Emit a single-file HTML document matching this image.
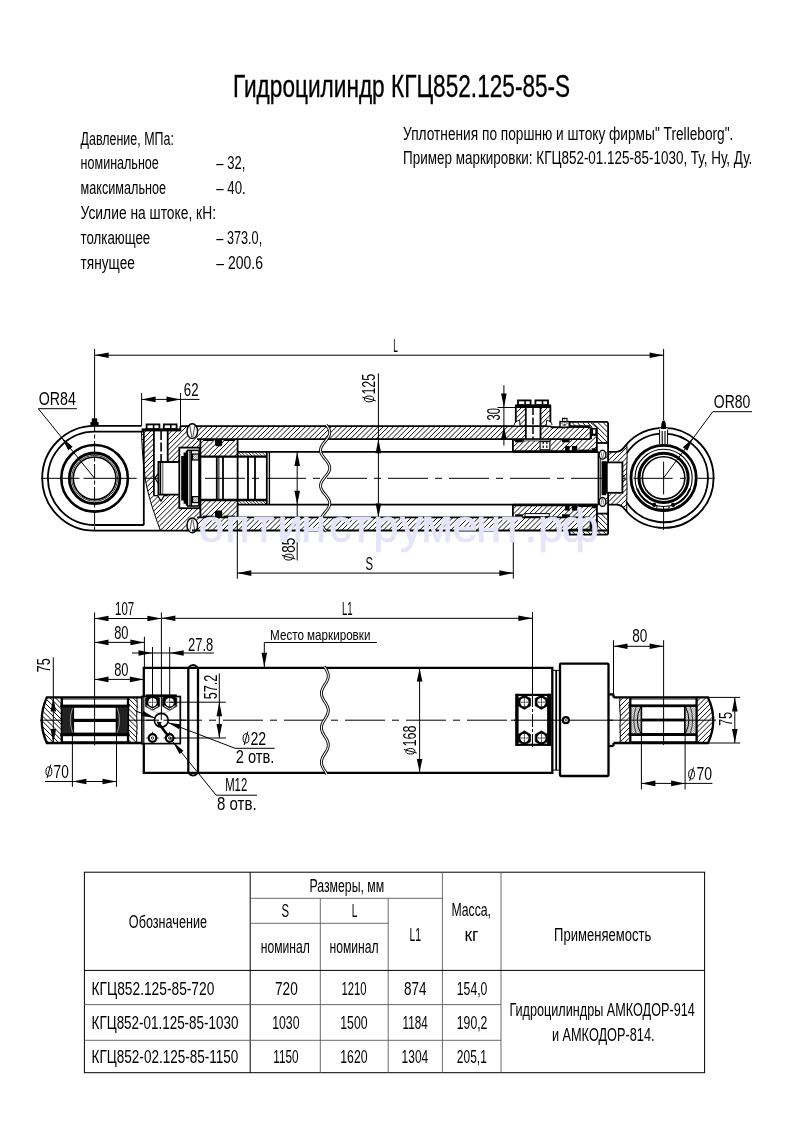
<!DOCTYPE html>
<html><head><meta charset="utf-8"><title>Гидроцилиндр КГЦ852.125-85-S</title>
<style>html,body{margin:0;padding:0;background:#fff}svg{display:block}text{white-space:pre}svg{will-change:transform}</style></head>
<body><svg width="793" height="1123" viewBox="0 0 793 1123">
<defs>
<path id="hA" d="M-15.00 540.0L130.00 395.0M-9.82 540.0L135.18 395.0M-4.64 540.0L140.36 395.0M0.54 540.0L145.54 395.0M5.72 540.0L150.72 395.0M10.90 540.0L155.90 395.0M16.08 540.0L161.08 395.0M21.26 540.0L166.26 395.0M26.44 540.0L171.44 395.0M31.62 540.0L176.62 395.0M36.80 540.0L181.80 395.0M41.98 540.0L186.98 395.0M47.16 540.0L192.16 395.0M52.34 540.0L197.34 395.0M57.52 540.0L202.52 395.0M62.70 540.0L207.70 395.0M67.88 540.0L212.88 395.0M73.06 540.0L218.06 395.0M78.24 540.0L223.24 395.0M83.42 540.0L228.42 395.0M88.60 540.0L233.60 395.0M93.78 540.0L238.78 395.0M98.96 540.0L243.96 395.0M104.14 540.0L249.14 395.0M109.32 540.0L254.32 395.0M114.50 540.0L259.50 395.0M119.68 540.0L264.68 395.0M124.86 540.0L269.86 395.0M130.04 540.0L275.04 395.0M135.22 540.0L280.22 395.0M140.40 540.0L285.40 395.0M145.58 540.0L290.58 395.0M150.76 540.0L295.76 395.0M155.94 540.0L300.94 395.0M161.12 540.0L306.12 395.0M166.30 540.0L311.30 395.0M171.48 540.0L316.48 395.0M176.66 540.0L321.66 395.0M181.84 540.0L326.84 395.0M187.02 540.0L332.02 395.0M192.20 540.0L337.20 395.0M197.38 540.0L342.38 395.0M202.56 540.0L347.56 395.0M207.74 540.0L352.74 395.0M212.92 540.0L357.92 395.0M218.10 540.0L363.10 395.0M223.28 540.0L368.28 395.0M228.46 540.0L373.46 395.0M233.64 540.0L378.64 395.0M238.82 540.0L383.82 395.0M244.00 540.0L389.00 395.0M249.18 540.0L394.18 395.0M254.36 540.0L399.36 395.0M259.54 540.0L404.54 395.0M264.72 540.0L409.72 395.0M269.90 540.0L414.90 395.0M275.08 540.0L420.08 395.0M280.26 540.0L425.26 395.0M285.44 540.0L430.44 395.0M290.62 540.0L435.62 395.0M295.80 540.0L440.80 395.0M300.98 540.0L445.98 395.0M306.16 540.0L451.16 395.0M311.34 540.0L456.34 395.0M316.52 540.0L461.52 395.0M321.70 540.0L466.70 395.0M326.88 540.0L471.88 395.0M332.06 540.0L477.06 395.0M337.24 540.0L482.24 395.0M342.42 540.0L487.42 395.0M347.60 540.0L492.60 395.0M352.78 540.0L497.78 395.0M357.96 540.0L502.96 395.0M363.14 540.0L508.14 395.0M368.32 540.0L513.32 395.0M373.50 540.0L518.50 395.0M378.68 540.0L523.68 395.0M383.86 540.0L528.86 395.0M389.04 540.0L534.04 395.0M394.22 540.0L539.22 395.0M399.40 540.0L544.40 395.0M404.58 540.0L549.58 395.0M409.76 540.0L554.76 395.0M414.94 540.0L559.94 395.0M420.12 540.0L565.12 395.0M425.30 540.0L570.30 395.0M430.48 540.0L575.48 395.0M435.66 540.0L580.66 395.0M440.84 540.0L585.84 395.0M446.02 540.0L591.02 395.0M451.20 540.0L596.20 395.0M456.38 540.0L601.38 395.0M461.56 540.0L606.56 395.0M466.74 540.0L611.74 395.0M471.92 540.0L616.92 395.0M477.10 540.0L622.10 395.0M482.28 540.0L627.28 395.0M487.46 540.0L632.46 395.0M492.64 540.0L637.64 395.0M497.82 540.0L642.82 395.0M503.00 540.0L648.00 395.0M508.18 540.0L653.18 395.0M513.36 540.0L658.36 395.0M518.54 540.0L663.54 395.0M523.72 540.0L668.72 395.0M528.90 540.0L673.90 395.0M534.08 540.0L679.08 395.0M539.26 540.0L684.26 395.0M544.44 540.0L689.44 395.0M549.62 540.0L694.62 395.0M554.80 540.0L699.80 395.0M559.98 540.0L704.98 395.0M565.16 540.0L710.16 395.0M570.34 540.0L715.34 395.0M575.52 540.0L720.52 395.0M580.70 540.0L725.70 395.0M585.88 540.0L730.88 395.0M591.06 540.0L736.06 395.0M596.24 540.0L741.24 395.0M601.42 540.0L746.42 395.0M606.60 540.0L751.60 395.0M611.78 540.0L756.78 395.0M616.96 540.0L761.96 395.0M622.14 540.0L767.14 395.0M627.32 540.0L772.32 395.0M632.50 540.0L777.50 395.0M637.68 540.0L782.68 395.0M642.86 540.0L787.86 395.0M648.04 540.0L793.04 395.0M653.22 540.0L798.22 395.0M658.40 540.0L803.40 395.0M663.58 540.0L808.58 395.0M668.76 540.0L813.76 395.0M673.94 540.0L818.94 395.0M679.12 540.0L824.12 395.0M684.30 540.0L829.30 395.0M689.48 540.0L834.48 395.0M694.66 540.0L839.66 395.0M699.84 540.0L844.84 395.0M705.02 540.0L850.02 395.0M710.20 540.0L855.20 395.0M715.38 540.0L860.38 395.0M720.56 540.0L865.56 395.0M725.74 540.0L870.74 395.0M730.92 540.0L875.92 395.0M736.10 540.0L881.10 395.0M741.28 540.0L886.28 395.0M746.46 540.0L891.46 395.0M751.64 540.0L896.64 395.0M756.82 540.0L901.82 395.0M762.00 540.0L907.00 395.0M767.18 540.0L912.18 395.0M772.36 540.0L917.36 395.0M777.54 540.0L922.54 395.0M782.72 540.0L927.72 395.0" fill="none" stroke="#000" stroke-width="0.95"/>
<path id="hB" d="M435.00 415.0L560.00 540.0M440.18 415.0L565.18 540.0M445.36 415.0L570.36 540.0M450.54 415.0L575.54 540.0M455.72 415.0L580.72 540.0M460.90 415.0L585.90 540.0M466.08 415.0L591.08 540.0M471.26 415.0L596.26 540.0M476.44 415.0L601.44 540.0M481.62 415.0L606.62 540.0M486.80 415.0L611.80 540.0M491.98 415.0L616.98 540.0M497.16 415.0L622.16 540.0M502.34 415.0L627.34 540.0M507.52 415.0L632.52 540.0M512.70 415.0L637.70 540.0M517.88 415.0L642.88 540.0M523.06 415.0L648.06 540.0M528.24 415.0L653.24 540.0M533.42 415.0L658.42 540.0M538.60 415.0L663.60 540.0M543.78 415.0L668.78 540.0M548.96 415.0L673.96 540.0M554.14 415.0L679.14 540.0M559.32 415.0L684.32 540.0M564.50 415.0L689.50 540.0M569.68 415.0L694.68 540.0M574.86 415.0L699.86 540.0M580.04 415.0L705.04 540.0M585.22 415.0L710.22 540.0M590.40 415.0L715.40 540.0M595.58 415.0L720.58 540.0M600.76 415.0L725.76 540.0M605.94 415.0L730.94 540.0M611.12 415.0L736.12 540.0M616.30 415.0L741.30 540.0M621.48 415.0L746.48 540.0M626.66 415.0L751.66 540.0M631.84 415.0L756.84 540.0M637.02 415.0L762.02 540.0M642.20 415.0L767.20 540.0M647.38 415.0L772.38 540.0M652.56 415.0L777.56 540.0M657.74 415.0L782.74 540.0M662.92 415.0L787.92 540.0M668.10 415.0L793.10 540.0M673.28 415.0L798.28 540.0M678.46 415.0L803.46 540.0M683.64 415.0L808.64 540.0M688.82 415.0L813.82 540.0M694.00 415.0L819.00 540.0M699.18 415.0L824.18 540.0M704.36 415.0L829.36 540.0M709.54 415.0L834.54 540.0M714.72 415.0L839.72 540.0M719.90 415.0L844.90 540.0M725.08 415.0L850.08 540.0M730.26 415.0L855.26 540.0M735.44 415.0L860.44 540.0" fill="none" stroke="#000" stroke-width="0.95"/>
<path id="hE" d="M176.00 448.0L236.00 508.0M179.40 448.0L239.40 508.0M182.80 448.0L242.80 508.0M186.20 448.0L246.20 508.0M189.60 448.0L249.60 508.0M193.00 448.0L253.00 508.0M196.40 448.0L256.40 508.0M199.80 448.0L259.80 508.0M203.20 448.0L263.20 508.0M206.60 448.0L266.60 508.0M210.00 448.0L270.00 508.0M213.40 448.0L273.40 508.0M216.80 448.0L276.80 508.0M220.20 448.0L280.20 508.0M223.60 448.0L283.60 508.0M227.00 448.0L287.00 508.0M230.40 448.0L290.40 508.0M233.80 448.0L293.80 508.0M237.20 448.0L297.20 508.0M240.60 448.0L300.60 508.0M244.00 448.0L304.00 508.0M247.40 448.0L307.40 508.0M250.80 448.0L310.80 508.0M254.20 448.0L314.20 508.0M257.60 448.0L317.60 508.0M261.00 448.0L321.00 508.0M264.40 448.0L324.40 508.0M267.80 448.0L327.80 508.0M271.20 448.0L331.20 508.0M274.60 448.0L334.60 508.0M278.00 448.0L338.00 508.0M281.40 448.0L341.40 508.0M284.80 448.0L344.80 508.0M288.20 448.0L348.20 508.0M291.60 448.0L351.60 508.0M295.00 448.0L355.00 508.0M298.40 448.0L358.40 508.0M301.80 448.0L361.80 508.0M305.20 448.0L365.20 508.0M308.60 448.0L368.60 508.0M312.00 448.0L372.00 508.0M315.40 448.0L375.40 508.0M318.80 448.0L378.80 508.0M322.20 448.0L382.20 508.0M325.60 448.0L385.60 508.0M329.00 448.0L389.00 508.0" fill="none" stroke="#000" stroke-width="0.8"/>
<path id="hC" d="M-25.00 690.0L35.00 750.0M-19.82 690.0L40.18 750.0M-14.64 690.0L45.36 750.0M-9.46 690.0L50.54 750.0M-4.28 690.0L55.72 750.0M0.90 690.0L60.90 750.0M6.08 690.0L66.08 750.0M11.26 690.0L71.26 750.0M16.44 690.0L76.44 750.0M21.62 690.0L81.62 750.0M26.80 690.0L86.80 750.0M31.98 690.0L91.98 750.0M37.16 690.0L97.16 750.0M42.34 690.0L102.34 750.0M47.52 690.0L107.52 750.0M52.70 690.0L112.70 750.0M57.88 690.0L117.88 750.0M63.06 690.0L123.06 750.0M68.24 690.0L128.24 750.0M73.42 690.0L133.42 750.0M78.60 690.0L138.60 750.0M83.78 690.0L143.78 750.0M88.96 690.0L148.96 750.0M94.14 690.0L154.14 750.0M99.32 690.0L159.32 750.0M104.50 690.0L164.50 750.0M109.68 690.0L169.68 750.0M114.86 690.0L174.86 750.0M120.04 690.0L180.04 750.0M125.22 690.0L185.22 750.0M130.40 690.0L190.40 750.0M135.58 690.0L195.58 750.0M140.76 690.0L200.76 750.0M145.94 690.0L205.94 750.0M151.12 690.0L211.12 750.0M156.30 690.0L216.30 750.0M161.48 690.0L221.48 750.0M166.66 690.0L226.66 750.0M171.84 690.0L231.84 750.0M177.02 690.0L237.02 750.0M182.20 690.0L242.20 750.0M187.38 690.0L247.38 750.0M192.56 690.0L252.56 750.0M197.74 690.0L257.74 750.0M202.92 690.0L262.92 750.0" fill="none" stroke="#000" stroke-width="0.95"/>
<path id="hD" d="M550.00 750.0L610.00 690.0M555.18 750.0L615.18 690.0M560.36 750.0L620.36 690.0M565.54 750.0L625.54 690.0M570.72 750.0L630.72 690.0M575.90 750.0L635.90 690.0M581.08 750.0L641.08 690.0M586.26 750.0L646.26 690.0M591.44 750.0L651.44 690.0M596.62 750.0L656.62 690.0M601.80 750.0L661.80 690.0M606.98 750.0L666.98 690.0M612.16 750.0L672.16 690.0M617.34 750.0L677.34 690.0M622.52 750.0L682.52 690.0M627.70 750.0L687.70 690.0M632.88 750.0L692.88 690.0M638.06 750.0L698.06 690.0M643.24 750.0L703.24 690.0M648.42 750.0L708.42 690.0M653.60 750.0L713.60 690.0M658.78 750.0L718.78 690.0M663.96 750.0L723.96 690.0M669.14 750.0L729.14 690.0M674.32 750.0L734.32 690.0M679.50 750.0L739.50 690.0M684.68 750.0L744.68 690.0M689.86 750.0L749.86 690.0M695.04 750.0L755.04 690.0M700.22 750.0L760.22 690.0M705.40 750.0L765.40 690.0M710.58 750.0L770.58 690.0M715.76 750.0L775.76 690.0M720.94 750.0L780.94 690.0M726.12 750.0L786.12 690.0M731.30 750.0L791.30 690.0M736.48 750.0L796.48 690.0M741.66 750.0L801.66 690.0M746.84 750.0L806.84 690.0M752.02 750.0L812.02 690.0M757.20 750.0L817.20 690.0M762.38 750.0L822.38 690.0M767.56 750.0L827.56 690.0M772.74 750.0L832.74 690.0M777.92 750.0L837.92 690.0" fill="none" stroke="#000" stroke-width="0.95"/>
<clipPath id="c1"><path d="M192.00 426.10 L569.60 426.10 L569.60 427.20 L590.80 427.20 L590.80 439.20 L192.00 439.20 Z"/></clipPath><clipPath id="c2"><path d="M192.00 517.40 L590.80 517.40 L590.80 529.40 L569.60 529.40 L569.60 530.50 L192.00 530.50 Z"/></clipPath><clipPath id="c3"><path d="M141.40 431.00 L180.40 431.00 L180.40 426.10 L192.00 426.10 L192.00 439.20 L200.20 439.20 L200.20 517.40 L192.00 517.40 L192.00 530.50 L160.40 530.50 L152.00 505.00 L146.00 485.00 L144.20 470.00 L142.50 450.00 Z"/></clipPath><clipPath id="c4"><path d="M200.40 439.20 L237.50 439.20 L237.50 456.60 L200.40 456.60 Z"/></clipPath><clipPath id="c5"><path d="M200.40 500.00 L237.50 500.00 L237.50 517.40 L200.40 517.40 Z"/></clipPath><clipPath id="c6"><path d="M237.60 451.90 L266.60 451.90 L266.60 456.60 L237.60 456.60 Z"/></clipPath><clipPath id="c7"><path d="M237.60 500.00 L266.60 500.00 L266.60 504.70 L237.60 504.70 Z"/></clipPath><clipPath id="c8"><path d="M516.20 406.60 L525.60 406.60 L525.60 426.10 L516.20 426.10 Z"/></clipPath><clipPath id="c9"><path d="M540.60 406.60 L550.00 406.60 L550.00 426.10 L540.60 426.10 Z"/></clipPath><clipPath id="c10"><path d="M512.90 439.20 L590.80 439.20 L590.80 435.00 L596.90 435.00 L596.90 451.90 L512.90 451.90 Z"/></clipPath><clipPath id="c11"><path d="M512.90 517.40 L590.80 517.40 L590.80 521.60 L596.90 521.60 L596.90 504.70 L512.90 504.70 Z"/></clipPath><clipPath id="c12"><path d="M569.60 422.40 L607.40 422.40 L607.40 443.00 L596.90 443.00 L596.90 427.80 L590.80 427.20 L569.60 427.20 Z"/></clipPath><clipPath id="c13"><path d="M569.60 534.20 L607.40 534.20 L607.40 513.60 L596.90 513.60 L596.90 528.80 L590.80 529.40 L569.60 529.40 Z"/></clipPath><clipPath id="c14"><path d="M605.50 451.90 L615.20 451.90 L619.80 451.00 L623.30 448.20 L626.80 444.20 L627.60 460.00 L626.60 478.00 L627.40 496.00 L626.80 511.80 L623.30 507.60 L619.80 505.40 L615.20 504.70 L605.50 504.70 Z"/></clipPath><clipPath id="c15"><path d="M46.80 697.40 L61.80 697.40 L61.80 743.00 L46.80 743.00 L43.40 735.00 L41.60 720.20 L43.40 705.40 Z"/></clipPath><clipPath id="c16"><path d="M128.00 697.40 L136.80 697.40 L137.60 708.00 L136.60 720.20 L137.60 733.00 L136.80 743.00 L128.00 743.00 Z"/></clipPath><clipPath id="c17"><path d="M620.20 697.40 L630.30 697.40 L630.30 743.00 L620.20 743.00 L619.20 733.00 L620.60 720.20 L619.20 708.00 Z"/></clipPath><clipPath id="c18"><path d="M696.60 697.40 L708.00 697.40 L711.80 705.40 L713.80 720.20 L711.80 735.00 L708.00 743.00 L696.60 743.00 Z"/></clipPath>
<pattern id="hX" width="1.6" height="1.6" patternUnits="userSpaceOnUse" patternTransform="rotate(45)"><path d="M0 0H1.6M0 0V1.6" stroke="#333" stroke-width="0.5"/></pattern>
</defs>
<rect width="793" height="1123" fill="#fff"/>
<text x="233.00" y="97.40" font-size="31" font-family="Liberation Sans, sans-serif" text-anchor="start" fill="#000" textLength="337.20" lengthAdjust="spacingAndGlyphs" stroke="#000" stroke-width="0.35">Гидроцилиндр КГЦ852.125-85-S</text>
<text x="80.60" y="144.50" font-size="18.3" font-family="Liberation Sans, sans-serif" text-anchor="start" fill="#000" textLength="93.30" lengthAdjust="spacingAndGlyphs" >Давление, МПа:</text>
<text x="80.60" y="169.30" font-size="18.3" font-family="Liberation Sans, sans-serif" text-anchor="start" fill="#000" textLength="78.20" lengthAdjust="spacingAndGlyphs" >номинальное</text>
<text x="80.60" y="194.00" font-size="18.3" font-family="Liberation Sans, sans-serif" text-anchor="start" fill="#000" textLength="85.50" lengthAdjust="spacingAndGlyphs" >максимальное</text>
<text x="80.60" y="218.90" font-size="18.3" font-family="Liberation Sans, sans-serif" text-anchor="start" fill="#000" textLength="135.40" lengthAdjust="spacingAndGlyphs" >Усилие на штоке, кН:</text>
<text x="80.60" y="243.70" font-size="18.3" font-family="Liberation Sans, sans-serif" text-anchor="start" fill="#000" textLength="69.60" lengthAdjust="spacingAndGlyphs" >толкающее</text>
<text x="80.60" y="268.50" font-size="18.3" font-family="Liberation Sans, sans-serif" text-anchor="start" fill="#000" textLength="54.20" lengthAdjust="spacingAndGlyphs" >тянущее</text>
<text x="216.30" y="169.30" font-size="18.3" font-family="Liberation Sans, sans-serif" text-anchor="start" fill="#000" textLength="29.00" lengthAdjust="spacingAndGlyphs" >– 32,</text>
<text x="216.30" y="194.00" font-size="18.3" font-family="Liberation Sans, sans-serif" text-anchor="start" fill="#000" textLength="29.50" lengthAdjust="spacingAndGlyphs" >– 40.</text>
<text x="216.30" y="243.70" font-size="18.3" font-family="Liberation Sans, sans-serif" text-anchor="start" fill="#000" textLength="45.90" lengthAdjust="spacingAndGlyphs" >– 373.0,</text>
<text x="216.30" y="268.50" font-size="18.3" font-family="Liberation Sans, sans-serif" text-anchor="start" fill="#000" textLength="46.70" lengthAdjust="spacingAndGlyphs" >– 200.6</text>
<text x="403.10" y="139.50" font-size="18.3" font-family="Liberation Sans, sans-serif" text-anchor="start" fill="#000" textLength="330.30" lengthAdjust="spacingAndGlyphs" >Уплотнения по поршню и штоку фирмы" Trelleborg".</text>
<text x="403.10" y="164.20" font-size="18.3" font-family="Liberation Sans, sans-serif" text-anchor="start" fill="#000" textLength="349.20" lengthAdjust="spacingAndGlyphs" >Пример маркировки: КГЦ852-01.125-85-1030, Ту, Ну, Ду.</text>
<rect x="84.40" y="872.20" width="620.20" height="200.50" fill="none" stroke="#000" stroke-width="1.0" />
<line x1="250.2" y1="872.2" x2="250.2" y2="1072.7" stroke="#000" stroke-width="1.0"/>
<line x1="320.3" y1="898.3" x2="320.3" y2="1072.7" stroke="#5a5a5a" stroke-width="0.9"/>
<line x1="388.2" y1="898.3" x2="388.2" y2="1072.7" stroke="#5a5a5a" stroke-width="0.9"/>
<line x1="442.4" y1="872.2" x2="442.4" y2="1072.7" stroke="#5a5a5a" stroke-width="0.9"/>
<line x1="501.0" y1="872.2" x2="501.0" y2="1072.7" stroke="#5a5a5a" stroke-width="0.9"/>
<line x1="250.2" y1="898.3" x2="442.4" y2="898.3" stroke="#5a5a5a" stroke-width="0.9"/>
<line x1="250.2" y1="923.3" x2="388.2" y2="923.3" stroke="#5a5a5a" stroke-width="0.9"/>
<line x1="84.4" y1="970.4" x2="704.6" y2="970.4" stroke="#000" stroke-width="1.0"/>
<line x1="84.4" y1="1004.6" x2="501.0" y2="1004.6" stroke="#5a5a5a" stroke-width="0.9"/>
<line x1="84.4" y1="1040.3" x2="501.0" y2="1040.3" stroke="#5a5a5a" stroke-width="0.9"/>
<text x="128.80" y="927.60" font-size="18.3" font-family="Liberation Sans, sans-serif" text-anchor="start" fill="#000" textLength="78.20" lengthAdjust="spacingAndGlyphs" >Обозначение</text>
<text x="309.40" y="892.30" font-size="18.3" font-family="Liberation Sans, sans-serif" text-anchor="start" fill="#000" textLength="74.90" lengthAdjust="spacingAndGlyphs" >Размеры, мм</text>
<text x="281.60" y="917.30" font-size="18.3" font-family="Liberation Sans, sans-serif" text-anchor="start" fill="#000" textLength="7.60" lengthAdjust="spacingAndGlyphs" >S</text>
<text x="351.70" y="917.30" font-size="18.3" font-family="Liberation Sans, sans-serif" text-anchor="start" fill="#000" textLength="5.60" lengthAdjust="spacingAndGlyphs" >L</text>
<text x="409.50" y="941.20" font-size="18.3" font-family="Liberation Sans, sans-serif" text-anchor="start" fill="#000" textLength="11.60" lengthAdjust="spacingAndGlyphs" >L1</text>
<text x="260.70" y="952.80" font-size="18.3" font-family="Liberation Sans, sans-serif" text-anchor="start" fill="#000" textLength="49.20" lengthAdjust="spacingAndGlyphs" >номинал</text>
<text x="329.50" y="952.80" font-size="18.3" font-family="Liberation Sans, sans-serif" text-anchor="start" fill="#000" textLength="49.20" lengthAdjust="spacingAndGlyphs" >номинал</text>
<text x="451.40" y="916.00" font-size="18.3" font-family="Liberation Sans, sans-serif" text-anchor="start" fill="#000" textLength="39.60" lengthAdjust="spacingAndGlyphs" >Масса,</text>
<text x="464.50" y="940.70" font-size="18.3" font-family="Liberation Sans, sans-serif" text-anchor="start" fill="#000" textLength="13.90" lengthAdjust="spacingAndGlyphs" >кг</text>
<text x="554.10" y="941.00" font-size="18.3" font-family="Liberation Sans, sans-serif" text-anchor="start" fill="#000" textLength="97.10" lengthAdjust="spacingAndGlyphs" >Применяемость</text>
<text x="91.60" y="994.90" font-size="18.3" font-family="Liberation Sans, sans-serif" text-anchor="start" fill="#000" textLength="122.70" lengthAdjust="spacingAndGlyphs" >КГЦ852.125-85-720</text>
<text x="275.00" y="994.90" font-size="18.3" font-family="Liberation Sans, sans-serif" text-anchor="start" fill="#000" textLength="22.80" lengthAdjust="spacingAndGlyphs" >720</text>
<text x="341.40" y="994.90" font-size="18.3" font-family="Liberation Sans, sans-serif" text-anchor="start" fill="#000" textLength="25.20" lengthAdjust="spacingAndGlyphs" >1210</text>
<text x="404.00" y="994.90" font-size="18.3" font-family="Liberation Sans, sans-serif" text-anchor="start" fill="#000" textLength="22.50" lengthAdjust="spacingAndGlyphs" >874</text>
<text x="456.80" y="994.90" font-size="18.3" font-family="Liberation Sans, sans-serif" text-anchor="start" fill="#000" textLength="30.60" lengthAdjust="spacingAndGlyphs" >154,0</text>
<text x="91.60" y="1029.10" font-size="18.3" font-family="Liberation Sans, sans-serif" text-anchor="start" fill="#000" textLength="146.80" lengthAdjust="spacingAndGlyphs" >КГЦ852-01.125-85-1030</text>
<text x="272.20" y="1029.10" font-size="18.3" font-family="Liberation Sans, sans-serif" text-anchor="start" fill="#000" textLength="27.30" lengthAdjust="spacingAndGlyphs" >1030</text>
<text x="340.30" y="1029.10" font-size="18.3" font-family="Liberation Sans, sans-serif" text-anchor="start" fill="#000" textLength="27.30" lengthAdjust="spacingAndGlyphs" >1500</text>
<text x="402.60" y="1029.10" font-size="18.3" font-family="Liberation Sans, sans-serif" text-anchor="start" fill="#000" textLength="25.20" lengthAdjust="spacingAndGlyphs" >1184</text>
<text x="456.80" y="1029.10" font-size="18.3" font-family="Liberation Sans, sans-serif" text-anchor="start" fill="#000" textLength="30.60" lengthAdjust="spacingAndGlyphs" >190,2</text>
<text x="91.60" y="1063.20" font-size="18.3" font-family="Liberation Sans, sans-serif" text-anchor="start" fill="#000" textLength="146.80" lengthAdjust="spacingAndGlyphs" >КГЦ852-02.125-85-1150</text>
<text x="273.30" y="1063.20" font-size="18.3" font-family="Liberation Sans, sans-serif" text-anchor="start" fill="#000" textLength="25.20" lengthAdjust="spacingAndGlyphs" >1150</text>
<text x="340.30" y="1063.20" font-size="18.3" font-family="Liberation Sans, sans-serif" text-anchor="start" fill="#000" textLength="27.30" lengthAdjust="spacingAndGlyphs" >1620</text>
<text x="401.60" y="1063.20" font-size="18.3" font-family="Liberation Sans, sans-serif" text-anchor="start" fill="#000" textLength="26.60" lengthAdjust="spacingAndGlyphs" >1304</text>
<text x="456.80" y="1063.20" font-size="18.3" font-family="Liberation Sans, sans-serif" text-anchor="start" fill="#000" textLength="30.00" lengthAdjust="spacingAndGlyphs" >205,1</text>
<text x="509.40" y="1016.00" font-size="18.3" font-family="Liberation Sans, sans-serif" text-anchor="start" fill="#000" textLength="185.40" lengthAdjust="spacingAndGlyphs" >Гидроцилиндры АМКОДОР-914</text>
<text x="551.90" y="1040.50" font-size="18.3" font-family="Liberation Sans, sans-serif" text-anchor="start" fill="#000" textLength="102.60" lengthAdjust="spacingAndGlyphs" >и АМКОДОР-814.</text>
<g clip-path="url(#c1)"><use href="#hA"/></g>
<g clip-path="url(#c2)"><use href="#hA"/></g>
<g clip-path="url(#c3)"><use href="#hA"/></g>
<path d="M153.8 431 H167.8 V462 H179.6 V447 H200.2 V508.8 H179.6 V494.9 H164 L161 500.6 L157.7 494.9 H153.8 Z" fill="#fff" stroke="none"/>
<g clip-path="url(#c4)"><use href="#hA"/></g>
<g clip-path="url(#c5)"><use href="#hA"/></g>
<g clip-path="url(#c6)"><use href="#hE"/></g>
<g clip-path="url(#c7)"><use href="#hE"/></g>
<g clip-path="url(#c8)"><use href="#hA"/></g>
<g clip-path="url(#c9)"><use href="#hA"/></g>
<rect x="526.00" y="406.60" width="14.40" height="33.10" fill="#fff" stroke="none" stroke-width="0" />
<g clip-path="url(#c10)"><use href="#hA"/></g>
<g clip-path="url(#c11)"><use href="#hA"/></g>
<g clip-path="url(#c12)"><use href="#hB"/></g>
<g clip-path="url(#c13)"><use href="#hB"/></g>
<g clip-path="url(#c14)"><use href="#hA"/></g>
<rect x="602.00" y="461.20" width="20.40" height="33.00" fill="#fff" stroke="none" stroke-width="0" />
<line x1="40.90" y1="478.30" x2="79.50" y2="478.30" stroke="#000" stroke-width="1.0" />
<line x1="83.50" y1="478.30" x2="136.70" y2="478.30" stroke="#000" stroke-width="1.0" />
<line x1="144.00" y1="478.30" x2="628.00" y2="478.30" stroke="#000" stroke-width="1.0" stroke-dasharray="40 7 7 7"/>
<line x1="94.60" y1="348.90" x2="94.60" y2="418.00" stroke="#000" stroke-width="1.0" />
<line x1="94.60" y1="418.00" x2="94.60" y2="532.00" stroke="#000" stroke-width="1.0" stroke-dasharray="14 2.5 4 2.5"/>
<line x1="663.60" y1="348.90" x2="663.60" y2="420.00" stroke="#000" stroke-width="1.0" />
<line x1="663.60" y1="461.60" x2="663.60" y2="494.40" stroke="#000" stroke-width="1.0" />
<line x1="663.60" y1="506.00" x2="663.60" y2="530.00" stroke="#000" stroke-width="1.0" />
<path d="M94.60 425.90 A52.4 52.4 0 0 0 94.60 530.70" fill="none" stroke="#000" stroke-width="1.8" />
<path d="M94.60 431.60 A46.7 46.7 0 0 0 94.60 525.00" fill="none" stroke="#000" stroke-width="1.8" />
<line x1="94.60" y1="425.90" x2="141.60" y2="425.90" stroke="#000" stroke-width="1.8" />
<line x1="94.60" y1="431.60" x2="143.80" y2="431.60" stroke="#000" stroke-width="1.8" />
<line x1="143.80" y1="431.60" x2="143.80" y2="525.00" stroke="#000" stroke-width="1.8" />
<line x1="94.60" y1="525.00" x2="143.80" y2="525.00" stroke="#000" stroke-width="1.8" />
<line x1="94.60" y1="530.70" x2="192.00" y2="530.70" stroke="#000" stroke-width="1.8" />
<circle cx="94.60" cy="478.30" r="33.30" fill="none" stroke="#000" stroke-width="2.6" />
<circle cx="94.60" cy="478.30" r="25.30" fill="none" stroke="#000" stroke-width="2.8" />
<circle cx="94.60" cy="478.30" r="22.90" fill="none" stroke="#000" stroke-width="0.8" />
<circle cx="94.60" cy="478.30" r="21.30" fill="none" stroke="#000" stroke-width="1.5" />
<rect x="90.40" y="422.00" width="8.20" height="3.60" fill="#000" stroke="none" stroke-width="0" />
<rect x="91.80" y="418.40" width="5.40" height="3.60" fill="#000" stroke="none" stroke-width="0" />
<text x="38.80" y="404.90" font-size="18.2" font-family="Liberation Sans, sans-serif" text-anchor="start" fill="#000" textLength="37.10" lengthAdjust="spacingAndGlyphs" >OR84</text>
<line x1="38.30" y1="408.70" x2="76.90" y2="408.70" stroke="#000" stroke-width="1.0" />
<line x1="38.30" y1="408.70" x2="94.60" y2="478.30" stroke="#000" stroke-width="1.0" />
<path d="M61.65 437.56 L72.63 446.68 L68.27 450.21 Z" fill="#000" stroke="none"/>
<path d="M141.4 431 C142 450 143.6 466 144.6 474 C146.5 490 152 508 160.4 530.5" fill="none" stroke="#000" stroke-width="1.0" />
<rect x="141.60" y="428.40" width="38.80" height="3.00" fill="#000" stroke="none" stroke-width="0" />
<rect x="146.60" y="424.40" width="12.80" height="4.60" fill="#fff" stroke="#000" stroke-width="1.8" />
<line x1="153.60" y1="424.40" x2="153.60" y2="429.00" stroke="#000" stroke-width="1.6" />
<rect x="163.80" y="424.40" width="12.80" height="4.60" fill="#fff" stroke="#000" stroke-width="1.8" />
<line x1="170.80" y1="424.40" x2="170.80" y2="429.00" stroke="#000" stroke-width="1.6" />
<line x1="180.40" y1="426.10" x2="180.40" y2="431.20" stroke="#000" stroke-width="1.8" />
<line x1="180.40" y1="426.10" x2="590.20" y2="426.10" stroke="#000" stroke-width="1.8" />
<line x1="153.90" y1="431.00" x2="153.90" y2="495.60" stroke="#000" stroke-width="1.8" />
<line x1="167.70" y1="431.00" x2="167.70" y2="462.00" stroke="#000" stroke-width="1.8" />
<line x1="161.10" y1="431.00" x2="161.10" y2="462.00" stroke="#000" stroke-width="1.6" stroke-dasharray="9 2.5"/>
<path d="M153.90 495.60 L157.70 495.60 L161.00 501.00 L164.20 495.60 L167.70 495.60" fill="none" stroke="#000" stroke-width="1.2" stroke-linejoin="miter" />
<path d="M179.60 462.00 L158.40 462.00 L158.40 494.60 L179.60 494.60" fill="#fff" stroke="#000" stroke-width="1.8" stroke-linejoin="miter" />
<line x1="160.40" y1="462.00" x2="160.40" y2="494.60" stroke="#000" stroke-width="1.6" />
<line x1="162.80" y1="462.00" x2="162.80" y2="494.60" stroke="#000" stroke-width="0.7" />
<path d="M158.20 473.40 L154.90 478.30 L158.20 483.20" fill="none" stroke="#000" stroke-width="1.2" stroke-linejoin="miter" />
<rect x="179.30" y="447.60" width="20.30" height="60.60" fill="#fff" stroke="#000" stroke-width="1.8" />
<path d="M181.2 456 H183.6 V452.6 H185.8 V450.6 H188.2 V505.8 H185.8 V503.8 H183.6 V500.6 H181.2 Z" fill="#000"/>
<line x1="189.60" y1="451.00" x2="189.60" y2="505.40" stroke="#000" stroke-width="0.7" />
<line x1="191.20" y1="450.40" x2="191.20" y2="506.00" stroke="#000" stroke-width="1.7" />
<path d="M187.00 450.40 L198.80 450.40" fill="none" stroke="#000" stroke-width="1.6" stroke-linejoin="miter" />
<path d="M187.00 506.00 L198.80 506.00" fill="none" stroke="#000" stroke-width="1.6" stroke-linejoin="miter" />
<rect x="192.60" y="454.00" width="6.00" height="6.00" fill="url(#hX)" stroke="#000" stroke-width="1.2" />
<rect x="192.60" y="496.60" width="6.00" height="6.00" fill="url(#hX)" stroke="#000" stroke-width="1.2" />
<line x1="198.80" y1="450.40" x2="198.80" y2="506.00" stroke="#000" stroke-width="1.0" />
<ellipse cx="192.30" cy="431.20" rx="5.30" ry="7.40" fill="#fff" stroke="#000" stroke-width="1.5" />
<line x1="189.80" y1="425.60" x2="191.80" y2="437.20" stroke="#000" stroke-width="0.7" />
<line x1="194.80" y1="425.60" x2="192.80" y2="437.20" stroke="#000" stroke-width="0.7" />
<ellipse cx="192.30" cy="525.40" rx="5.30" ry="7.40" fill="#fff" stroke="#000" stroke-width="1.5" />
<line x1="189.80" y1="531.00" x2="191.80" y2="519.40" stroke="#000" stroke-width="0.7" />
<line x1="194.80" y1="531.00" x2="192.80" y2="519.40" stroke="#000" stroke-width="0.7" />
<line x1="197.00" y1="439.20" x2="590.20" y2="439.20" stroke="#000" stroke-width="1.8" />
<line x1="197.00" y1="517.40" x2="590.20" y2="517.40" stroke="#000" stroke-width="1.8" />
<line x1="192.00" y1="530.50" x2="607.00" y2="530.50" stroke="#000" stroke-width="1.8" />
<line x1="200.40" y1="439.20" x2="200.40" y2="517.40" stroke="#000" stroke-width="1.8" />
<line x1="237.60" y1="439.20" x2="237.60" y2="517.40" stroke="#000" stroke-width="1.8" />
<line x1="200.40" y1="456.60" x2="267.00" y2="456.60" stroke="#000" stroke-width="2.3" />
<line x1="200.40" y1="500.00" x2="267.00" y2="500.00" stroke="#000" stroke-width="2.3" />
<rect x="203.00" y="439.20" width="10.40" height="1.80" fill="#000" stroke="none" stroke-width="0" />
<rect x="223.60" y="439.20" width="11.40" height="1.80" fill="#000" stroke="none" stroke-width="0" />
<path d="M215 439.2 V444.4 Q215 446.2 216.8 446.2 H220.4 Q222.2 446.2 222.2 444.4 V439.2 Z" fill="#000"/>
<rect x="203.00" y="515.60" width="10.40" height="1.80" fill="#000" stroke="none" stroke-width="0" />
<rect x="223.60" y="515.60" width="11.40" height="1.80" fill="#000" stroke="none" stroke-width="0" />
<path d="M215 517.4 V512.1999999999999 Q215 510.4 216.8 510.4 H220.4 Q222.2 510.4 222.2 512.1999999999999 V517.4 Z" fill="#000"/>
<line x1="216.80" y1="456.60" x2="216.80" y2="500.00" stroke="#000" stroke-width="1.8" />
<line x1="218.90" y1="456.60" x2="218.90" y2="500.00" stroke="#000" stroke-width="1.0" />
<line x1="223.00" y1="456.60" x2="223.00" y2="500.00" stroke="#000" stroke-width="1.8" />
<line x1="248.00" y1="456.60" x2="248.00" y2="500.00" stroke="#000" stroke-width="1.8" />
<line x1="255.00" y1="456.60" x2="255.00" y2="500.00" stroke="#000" stroke-width="1.8" />
<line x1="238.00" y1="451.90" x2="598.50" y2="451.90" stroke="#000" stroke-width="1.8" />
<line x1="238.00" y1="504.70" x2="598.50" y2="504.70" stroke="#000" stroke-width="1.8" />
<line x1="266.80" y1="451.90" x2="266.80" y2="504.70" stroke="#000" stroke-width="1.8" />
<line x1="269.40" y1="451.90" x2="269.40" y2="504.70" stroke="#000" stroke-width="1.4" />
<path d="M326.23 424.90 L327.25 426.24 L328.15 427.57 L328.88 428.91 L329.41 430.24 L329.70 431.58 L329.73 432.91 L329.52 434.25 L329.05 435.58 L328.38 436.92 L327.52 438.25 L326.53 439.59 L325.47 440.92 L324.38 442.26 L323.34 443.59 L322.40 444.93 L321.61 446.26 L321.02 447.60 L320.66 448.93 L320.55 450.27 L320.69 451.60 L321.09 452.94 L321.70 454.27 L322.51 455.61 L323.47 456.94 L324.51 458.28 L325.60 459.61 L326.66 460.95 L327.63 462.28 L328.47 463.62 L329.12 464.95 L329.56 466.29 L329.74 467.62 L329.67 468.96 L329.36 470.29 L328.80 471.63 L328.05 472.96 L327.13 474.30 L326.10 475.63 L325.02 476.97 L323.95 478.30 L322.94 479.64 L322.06 480.97 L321.35 482.31 L320.85 483.64 L320.59 484.98 L320.58 486.31 L320.82 487.65 L321.31 488.98 L322.01 490.32 L322.89 491.65 L323.89 492.99 L324.96 494.32 L326.04 495.66 L327.07 496.99 L328.00 498.33 L328.76 499.66 L329.33 501.00 L329.66 502.33 L329.75 503.67 L329.57 505.00 L329.16 506.34 L328.52 507.67 L327.69 509.01 L326.72 510.34 L325.66 511.68 L324.58 513.01 L323.53 514.35 L322.56 515.68 L321.75 517.02 L321.12 518.35 L320.71 519.69 L320.55 521.02 L320.65 522.36 L321.00 523.69 L321.57 525.03 L322.35 526.36 L323.28 527.70 L324.32 529.03 L325.40 530.37 L326.47 531.70" fill="none" stroke="#000" stroke-width="2.9"/>
<path d="M326.23 424.90 L327.25 426.24 L328.15 427.57 L328.88 428.91 L329.41 430.24 L329.70 431.58 L329.73 432.91 L329.52 434.25 L329.05 435.58 L328.38 436.92 L327.52 438.25 L326.53 439.59 L325.47 440.92 L324.38 442.26 L323.34 443.59 L322.40 444.93 L321.61 446.26 L321.02 447.60 L320.66 448.93 L320.55 450.27 L320.69 451.60 L321.09 452.94 L321.70 454.27 L322.51 455.61 L323.47 456.94 L324.51 458.28 L325.60 459.61 L326.66 460.95 L327.63 462.28 L328.47 463.62 L329.12 464.95 L329.56 466.29 L329.74 467.62 L329.67 468.96 L329.36 470.29 L328.80 471.63 L328.05 472.96 L327.13 474.30 L326.10 475.63 L325.02 476.97 L323.95 478.30 L322.94 479.64 L322.06 480.97 L321.35 482.31 L320.85 483.64 L320.59 484.98 L320.58 486.31 L320.82 487.65 L321.31 488.98 L322.01 490.32 L322.89 491.65 L323.89 492.99 L324.96 494.32 L326.04 495.66 L327.07 496.99 L328.00 498.33 L328.76 499.66 L329.33 501.00 L329.66 502.33 L329.75 503.67 L329.57 505.00 L329.16 506.34 L328.52 507.67 L327.69 509.01 L326.72 510.34 L325.66 511.68 L324.58 513.01 L323.53 514.35 L322.56 515.68 L321.75 517.02 L321.12 518.35 L320.71 519.69 L320.55 521.02 L320.65 522.36 L321.00 523.69 L321.57 525.03 L322.35 526.36 L323.28 527.70 L324.32 529.03 L325.40 530.37 L326.47 531.70" fill="none" stroke="#fff" stroke-width="1.1"/>
<path d="M515.80 426.10 L515.80 406.40 L550.40 406.40 L550.40 426.10" fill="none" stroke="#000" stroke-width="1.8" stroke-linejoin="miter" />
<rect x="515.20" y="404.40" width="35.80" height="3.60" fill="#000" stroke="none" stroke-width="0" />
<rect x="518.00" y="400.40" width="12.60" height="4.60" fill="#fff" stroke="#000" stroke-width="1.8" />
<line x1="525.10" y1="400.40" x2="525.10" y2="405.00" stroke="#000" stroke-width="1.6" />
<rect x="535.40" y="400.40" width="12.60" height="4.60" fill="#fff" stroke="#000" stroke-width="1.8" />
<line x1="542.50" y1="400.40" x2="542.50" y2="405.00" stroke="#000" stroke-width="1.6" />
<line x1="525.80" y1="406.40" x2="525.80" y2="439.20" stroke="#000" stroke-width="1.8" />
<line x1="540.50" y1="406.40" x2="540.50" y2="439.20" stroke="#000" stroke-width="1.8" />
<line x1="533.00" y1="408.00" x2="533.00" y2="439.20" stroke="#000" stroke-width="1.5" stroke-dasharray="7 2.5"/>
<path d="M513.8 426 Q514.8 420.6 519.6 420.4 L520 426 Z" fill="#fff" stroke="#000" stroke-width="0.9"/>
<path d="M552.4 426 Q551.4 420.6 546.6 420.4 L546.2 426 Z" fill="#fff" stroke="#000" stroke-width="0.9"/>
<rect x="551.40" y="425.00" width="18.00" height="1.60" fill="#fff" stroke="none" stroke-width="0" />
<line x1="550.40" y1="427.30" x2="569.60" y2="427.30" stroke="#000" stroke-width="1.8" />
<rect x="560.00" y="421.60" width="9.40" height="5.70" fill="#fff" stroke="#000" stroke-width="1.4" />
<rect x="562.60" y="418.40" width="4.40" height="3.20" fill="#fff" stroke="#000" stroke-width="1.1" />
<line x1="564.60" y1="417.60" x2="564.60" y2="429.00" stroke="#000" stroke-width="0.6" stroke-dasharray="2 1"/>
<line x1="561.00" y1="423.00" x2="568.00" y2="427.00" stroke="#000" stroke-width="0.5" />
<line x1="568.00" y1="423.00" x2="561.00" y2="427.00" stroke="#000" stroke-width="0.5" />
<line x1="512.90" y1="439.20" x2="512.90" y2="451.90" stroke="#000" stroke-width="1.8" />
<line x1="512.90" y1="451.60" x2="597.00" y2="451.60" stroke="#000" stroke-width="2.6" />
<rect x="515.10" y="439.20" width="7.70" height="3.10" fill="#000" stroke="none" stroke-width="0" />
<rect x="562.00" y="439.20" width="7.60" height="3.10" fill="#000" stroke="none" stroke-width="0" />
<rect x="565.10" y="446.00" width="4.50" height="5.90" fill="#000" stroke="none" stroke-width="0" />
<rect x="571.90" y="446.00" width="5.30" height="5.90" fill="#000" stroke="none" stroke-width="0" />
<rect x="579.00" y="449.60" width="11.80" height="2.30" fill="#000" stroke="none" stroke-width="0" />
<rect x="591.60" y="448.30" width="5.30" height="3.60" fill="#000" stroke="none" stroke-width="0" />
<rect x="523.60" y="439.60" width="26.00" height="1.30" fill="#fff" stroke="#000" stroke-width="0.7" />
<rect x="540.10" y="441.60" width="9.80" height="8.20" fill="#fff" stroke="#000" stroke-width="1.1" />
<line x1="543.20" y1="441.60" x2="543.20" y2="449.80" stroke="#000" stroke-width="1.2" stroke-dasharray="2.5 1.5"/>
<line x1="546.80" y1="441.60" x2="546.80" y2="449.80" stroke="#000" stroke-width="1.2" stroke-dasharray="2.5 1.5"/>
<line x1="590.80" y1="427.20" x2="590.80" y2="439.20" stroke="#000" stroke-width="2.2" />
<rect x="592.30" y="428.80" width="3.80" height="5.60" fill="#fff" stroke="#000" stroke-width="1.5" />
<line x1="590.80" y1="435.20" x2="596.90" y2="435.20" stroke="#000" stroke-width="1.2" />
<line x1="590.80" y1="422.60" x2="596.90" y2="427.80" stroke="#000" stroke-width="1.0" />
<path d="M569.60 427.30 L569.60 421.90 L607.00 421.90 L608.10 423.00 L608.10 451.90" fill="none" stroke="#000" stroke-width="1.8" stroke-linejoin="miter" />
<line x1="569.60" y1="427.30" x2="590.80" y2="427.30" stroke="#000" stroke-width="1.2" />
<line x1="596.90" y1="427.80" x2="596.90" y2="451.90" stroke="#000" stroke-width="1.8" />
<line x1="596.90" y1="443.00" x2="608.10" y2="443.00" stroke="#000" stroke-width="1.8" />
<line x1="512.90" y1="517.40" x2="512.90" y2="504.70" stroke="#000" stroke-width="1.8" />
<line x1="512.90" y1="505.00" x2="597.00" y2="505.00" stroke="#000" stroke-width="2.6" />
<rect x="515.10" y="514.30" width="7.70" height="3.10" fill="#000" stroke="none" stroke-width="0" />
<rect x="562.00" y="514.30" width="7.60" height="3.10" fill="#000" stroke="none" stroke-width="0" />
<rect x="565.10" y="504.70" width="4.50" height="5.90" fill="#000" stroke="none" stroke-width="0" />
<rect x="571.90" y="504.70" width="5.30" height="5.90" fill="#000" stroke="none" stroke-width="0" />
<rect x="579.00" y="504.70" width="11.80" height="2.30" fill="#000" stroke="none" stroke-width="0" />
<rect x="591.60" y="504.70" width="5.30" height="3.60" fill="#000" stroke="none" stroke-width="0" />
<rect x="525.00" y="513.60" width="24.20" height="3.00" fill="#fff" stroke="#000" stroke-width="1.0" />
<line x1="590.80" y1="529.40" x2="590.80" y2="517.40" stroke="#000" stroke-width="2.2" />
<rect x="592.30" y="522.20" width="3.80" height="5.60" fill="#fff" stroke="#000" stroke-width="1.5" />
<line x1="590.80" y1="521.40" x2="596.90" y2="521.40" stroke="#000" stroke-width="1.2" />
<line x1="590.80" y1="534.00" x2="596.90" y2="528.80" stroke="#000" stroke-width="1.0" />
<path d="M569.60 529.30 L569.60 534.70 L607.00 534.70 L608.10 533.60 L608.10 504.70" fill="none" stroke="#000" stroke-width="1.8" stroke-linejoin="miter" />
<line x1="569.60" y1="529.30" x2="590.80" y2="529.30" stroke="#000" stroke-width="1.2" />
<line x1="596.90" y1="528.80" x2="596.90" y2="504.70" stroke="#000" stroke-width="1.8" />
<line x1="596.90" y1="513.60" x2="608.10" y2="513.60" stroke="#000" stroke-width="1.8" />
<line x1="608.10" y1="451.90" x2="608.10" y2="504.70" stroke="#000" stroke-width="1.8" />
<line x1="598.50" y1="451.90" x2="598.50" y2="504.70" stroke="#000" stroke-width="1.8" />
<line x1="600.60" y1="459.00" x2="600.60" y2="497.60" stroke="#000" stroke-width="0.8" />
<rect x="601.60" y="461.20" width="4.60" height="34.00" fill="#000" stroke="none" stroke-width="0" />
<rect x="606.80" y="462.40" width="15.60" height="30.40" fill="#fff" stroke="#000" stroke-width="1.8" />
<path d="M622.40 474.60 L625.80 478.30 L622.40 482.00" fill="none" stroke="#000" stroke-width="0.8" stroke-linejoin="miter" />
<ellipse cx="602.50" cy="454.70" rx="3.40" ry="4.40" fill="#fff" stroke="#000" stroke-width="1.4" />
<line x1="601.00" y1="452.10" x2="602.20" y2="458.10" stroke="#000" stroke-width="0.5" />
<line x1="604.00" y1="452.10" x2="602.80" y2="458.10" stroke="#000" stroke-width="0.5" />
<ellipse cx="602.50" cy="501.90" rx="3.40" ry="4.40" fill="#fff" stroke="#000" stroke-width="1.4" />
<line x1="601.00" y1="504.50" x2="602.20" y2="498.50" stroke="#000" stroke-width="0.5" />
<line x1="604.00" y1="504.50" x2="602.80" y2="498.50" stroke="#000" stroke-width="0.5" />
<path d="M607.9 451.9 H615.60 A10.0 10.0 0 0 0 623.60 447.90 A50.0 50.0 0 1 1 624.11 508.57 A10.0 10.0 0 0 0 616.21 504.7 H607.9" fill="none" stroke="#000" stroke-width="1.8" />
<path d="M626.87 453.13 A44.3 44.3 0 1 1 626.45 502.03" fill="none" stroke="#000" stroke-width="1.8" />
<path d="M626.8 444.4 C627.8 456 626.2 468 626.8 478.3 C627.6 490 626.2 502 626.8 511.6" fill="none" stroke="#000" stroke-width="1.0" />
<circle cx="663.60" cy="477.90" r="32.60" fill="none" stroke="#000" stroke-width="2.8" />
<circle cx="663.60" cy="477.90" r="28.60" fill="none" stroke="#000" stroke-width="1.1" />
<circle cx="663.60" cy="477.90" r="24.60" fill="none" stroke="#000" stroke-width="3.0" />
<circle cx="663.60" cy="477.90" r="21.20" fill="none" stroke="#000" stroke-width="1.6" />
<path d="M637.08 488.61 A28.6 28.6 0 0 0 654.19 505.23" fill="none" stroke="#000" stroke-width="2.0" />
<path d="M673.01 505.23 A28.6 28.6 0 0 0 690.12 488.61" fill="none" stroke="#000" stroke-width="2.0" />
<circle cx="654.19" cy="504.93" r="2.10" fill="#000" stroke="#000" stroke-width="0" />
<circle cx="673.01" cy="504.93" r="2.10" fill="#000" stroke="#000" stroke-width="0" />
<path d="M656.80 505.40 L656.80 509.20 L669.00 509.20 L669.00 505.40" fill="none" stroke="#000" stroke-width="1.0" stroke-linejoin="miter" />
<rect x="659.60" y="428.00" width="8.00" height="16.00" fill="#fff" stroke="none" stroke-width="0" />
<line x1="659.60" y1="429.50" x2="659.60" y2="444.20" stroke="#000" stroke-width="1.0" />
<line x1="667.60" y1="429.50" x2="667.60" y2="444.20" stroke="#000" stroke-width="1.0" />
<line x1="662.20" y1="431.00" x2="662.20" y2="444.00" stroke="#000" stroke-width="1.1" />
<line x1="665.00" y1="431.00" x2="665.00" y2="444.00" stroke="#000" stroke-width="1.1" />
<path d="M660.8 429 L661.6 423 L662.6 420.6 H664.6 L665.6 423 L666.4 429 Z" fill="#000"/>
<line x1="633.60" y1="478.30" x2="672.60" y2="478.30" stroke="#000" stroke-width="1.0" />
<line x1="680.10" y1="478.30" x2="685.60" y2="478.30" stroke="#000" stroke-width="1.0" />
<line x1="697.60" y1="478.30" x2="714.60" y2="478.30" stroke="#000" stroke-width="1.0" />
<text x="713.80" y="407.90" font-size="18.2" font-family="Liberation Sans, sans-serif" text-anchor="start" fill="#000" textLength="36.50" lengthAdjust="spacingAndGlyphs" >OR80</text>
<line x1="712.80" y1="411.70" x2="752.00" y2="411.70" stroke="#000" stroke-width="1.0" />
<line x1="712.80" y1="411.70" x2="663.60" y2="477.90" stroke="#000" stroke-width="1.0" />
<path d="M693.43 437.77 L687.32 450.68 L682.83 447.34 Z" fill="#000" stroke="none"/>
<line x1="94.60" y1="355.20" x2="663.60" y2="355.20" stroke="#000" stroke-width="1.0" />
<path d="M94.60 355.20 L108.60 352.40 L108.60 358.00 Z" fill="#000" stroke="none"/>
<path d="M663.60 355.20 L649.60 358.00 L649.60 352.40 Z" fill="#000" stroke="none"/>
<text x="393.30" y="351.60" font-size="18.2" font-family="Liberation Sans, sans-serif" text-anchor="start" fill="#000" textLength="4.60" lengthAdjust="spacingAndGlyphs" >L</text>
<line x1="141.60" y1="393.00" x2="141.60" y2="426.00" stroke="#000" stroke-width="1.0" />
<line x1="180.50" y1="393.00" x2="180.50" y2="426.00" stroke="#000" stroke-width="1.0" />
<line x1="141.60" y1="399.40" x2="199.50" y2="399.40" stroke="#000" stroke-width="1.0" />
<path d="M141.60 399.40 L155.60 396.60 L155.60 402.20 Z" fill="#000" stroke="none"/>
<path d="M180.50 399.40 L166.50 402.20 L166.50 396.60 Z" fill="#000" stroke="none"/>
<text x="183.80" y="396.30" font-size="18.2" font-family="Liberation Sans, sans-serif" text-anchor="start" fill="#000" textLength="14.70" lengthAdjust="spacingAndGlyphs" >62</text>
<line x1="378.40" y1="373.40" x2="378.40" y2="439.20" stroke="#000" stroke-width="1.0" />
<line x1="378.40" y1="439.20" x2="378.40" y2="517.40" stroke="#000" stroke-width="1.0" />
<path d="M378.40 439.20 L381.20 453.20 L375.60 453.20 Z" fill="#000" stroke="none"/>
<path d="M378.40 517.40 L375.60 503.40 L381.20 503.40 Z" fill="#000" stroke="none"/>
<g transform="translate(375.20,402.30) rotate(-90)"><ellipse cx="3.38" cy="-6.12" rx="2.92" ry="4.62" fill="none" stroke="#000" stroke-width="1.0"/><line x1="1.50" y1="0.50" x2="5.25" y2="-13.00" stroke="#000" stroke-width="1.0"/></g>
<text transform="translate(375.20,394.60) rotate(-90)" x="0" y="0" font-size="18.2" font-family="Liberation Sans, sans-serif" text-anchor="start" fill="#000" textLength="20.80" lengthAdjust="spacingAndGlyphs" >125</text>
<line x1="297.20" y1="451.90" x2="297.20" y2="560.50" stroke="#000" stroke-width="1.0" />
<path d="M297.20 451.90 L300.00 465.90 L294.40 465.90 Z" fill="#000" stroke="none"/>
<path d="M297.20 504.70 L294.40 490.70 L300.00 490.70 Z" fill="#000" stroke="none"/>
<g transform="translate(294.80,560.50) rotate(-90)"><ellipse cx="3.38" cy="-6.12" rx="2.92" ry="4.62" fill="none" stroke="#000" stroke-width="1.0"/><line x1="1.50" y1="0.50" x2="5.25" y2="-13.00" stroke="#000" stroke-width="1.0"/></g>
<text transform="translate(294.80,552.80) rotate(-90)" x="0" y="0" font-size="18.2" font-family="Liberation Sans, sans-serif" text-anchor="start" fill="#000" textLength="15.00" lengthAdjust="spacingAndGlyphs" >85</text>
<line x1="237.30" y1="517.40" x2="237.30" y2="578.70" stroke="#000" stroke-width="1.0" />
<line x1="513.30" y1="518.70" x2="513.30" y2="578.70" stroke="#000" stroke-width="1.0" />
<line x1="237.30" y1="573.10" x2="513.30" y2="573.10" stroke="#000" stroke-width="1.0" />
<path d="M237.30 573.10 L251.30 570.30 L251.30 575.90 Z" fill="#000" stroke="none"/>
<path d="M513.30 573.10 L499.30 575.90 L499.30 570.30 Z" fill="#000" stroke="none"/>
<text x="365.50" y="569.90" font-size="18.2" font-family="Liberation Sans, sans-serif" text-anchor="start" fill="#000" textLength="7.60" lengthAdjust="spacingAndGlyphs" >S</text>
<line x1="503.90" y1="385.20" x2="503.90" y2="445.60" stroke="#000" stroke-width="1.0" />
<path d="M503.90 407.50 L501.10 393.50 L506.70 393.50 Z" fill="#000" stroke="none"/>
<path d="M503.90 426.10 L506.70 440.10 L501.10 440.10 Z" fill="#000" stroke="none"/>
<line x1="497.60" y1="407.50" x2="516.50" y2="407.50" stroke="#000" stroke-width="1.0" />
<text transform="translate(500.20,420.50) rotate(-90)" x="0" y="0" font-size="18.2" font-family="Liberation Sans, sans-serif" text-anchor="start" fill="#000" textLength="12.60" lengthAdjust="spacingAndGlyphs" >30</text>
<g clip-path="url(#c15)"><use href="#hC"/></g>
<g clip-path="url(#c16)"><use href="#hC"/></g>
<g clip-path="url(#c17)"><use href="#hD"/></g>
<g clip-path="url(#c18)"><use href="#hD"/></g>
<line x1="30.00" y1="720.20" x2="30.10" y2="720.20" stroke="#000" stroke-width="0" />
<line x1="40.00" y1="720.20" x2="620.00" y2="720.20" stroke="#000" stroke-width="1.0" stroke-dasharray="40 7 7 7"/>
<line x1="620.00" y1="720.20" x2="716.00" y2="720.20" stroke="#000" stroke-width="1.0" />
<path d="M144 697.4 H46.8 Q36.6 720.2 46.8 743.0 H144" fill="none" stroke="#000" stroke-width="2.3" />
<line x1="61.80" y1="697.40" x2="61.80" y2="743.00" stroke="#000" stroke-width="2.3" />
<line x1="128.00" y1="697.40" x2="128.00" y2="743.00" stroke="#000" stroke-width="2.3" />
<line x1="61.80" y1="699.10" x2="128.00" y2="699.10" stroke="#000" stroke-width="0.8" />
<line x1="61.80" y1="741.60" x2="128.00" y2="741.60" stroke="#000" stroke-width="0.8" />
<path d="M136.8 696.8 C138 706 136.2 714 136.8 720.2 C137.6 728 136 736 136.8 743.6" fill="none" stroke="#000" stroke-width="1.0" />
<rect x="60.20" y="704.60" width="69.40" height="2.60" fill="#000" stroke="none" stroke-width="0" />
<rect x="60.20" y="733.20" width="69.40" height="3.00" fill="#000" stroke="none" stroke-width="0" />
<rect x="61.80" y="707.00" width="11.50" height="26.40" fill="#222" stroke="#000" stroke-width="0.8" />
<rect x="116.50" y="707.00" width="11.50" height="26.40" fill="#222" stroke="#000" stroke-width="0.8" />
<rect x="73.30" y="707.00" width="43.20" height="26.40" fill="#fff" stroke="#000" stroke-width="1.6" />
<rect x="73.30" y="718.80" width="43.20" height="3.20" fill="#000" stroke="none" stroke-width="0" />
<path d="M72.6 708 Q68 720.2 72.6 732.6" fill="none" stroke="#ddd" stroke-width="0.6" />
<path d="M117.2 708 Q121.8 720.2 117.2 732.6" fill="none" stroke="#ddd" stroke-width="0.6" />
<line x1="94.60" y1="612.40" x2="94.60" y2="745.40" stroke="#000" stroke-width="1.0" />
<path d="M143.80 697.40 L143.80 667.80 L552.30 667.80 L552.30 772.80 L143.80 772.80 L143.80 743.00" fill="none" stroke="#000" stroke-width="2.3" stroke-linejoin="miter" />
<line x1="188.30" y1="667.80" x2="188.30" y2="772.80" stroke="#000" stroke-width="2.3" />
<line x1="198.00" y1="667.80" x2="198.00" y2="772.80" stroke="#000" stroke-width="2.3" />
<path d="M188.3 667.8 Q193.1 662.1999999999999 198 667.8" fill="none" stroke="#000" stroke-width="1.8" />
<path d="M188.3 772.8 Q193.1 778.4 198 772.8" fill="none" stroke="#000" stroke-width="1.8" />
<path d="M324.37 666.60 L325.21 667.94 L326.03 669.28 L326.78 670.63 L327.42 671.97 L327.90 673.31 L328.20 674.65 L328.30 676.00 L328.20 677.34 L327.89 678.68 L327.41 680.02 L326.77 681.37 L326.02 682.71 L325.20 684.05 L324.36 685.39 L323.55 686.74 L322.81 688.08 L322.20 689.42 L321.74 690.76 L321.47 692.11 L321.40 693.45 L321.54 694.79 L321.87 696.13 L322.38 697.48 L323.04 698.82 L323.80 700.16 L324.63 701.50 L325.47 702.85 L326.27 704.19 L326.99 705.53 L327.58 706.88 L328.01 708.22 L328.25 709.56 L328.29 710.90 L328.12 712.24 L327.76 713.59 L327.23 714.93 L326.55 716.27 L325.78 717.62 L324.95 718.96 L324.11 720.30 L323.32 721.64 L322.61 722.98 L322.04 724.33 L321.64 725.67 L321.43 727.01 L321.42 728.36 L321.62 729.70 L322.01 731.04 L322.56 732.38 L323.26 733.72 L324.04 735.07 L324.88 736.41 L325.72 737.75 L326.50 739.10 L327.18 740.44 L327.73 741.78 L328.10 743.12 L328.28 744.46 L328.26 745.81 L328.04 747.15 L327.62 748.49 L327.04 749.84 L326.33 751.18 L325.53 752.52 L324.69 753.86 L323.86 755.20 L323.09 756.55 L322.43 757.89 L321.90 759.23 L321.56 760.58 L321.41 761.92 L321.46 763.26 L321.72 764.60 L322.16 765.94 L322.76 767.29 L323.49 768.63 L324.29 769.97 L325.14 771.32 L325.96 772.66 L326.72 774.00" fill="none" stroke="#000" stroke-width="2.9"/>
<path d="M324.37 666.60 L325.21 667.94 L326.03 669.28 L326.78 670.63 L327.42 671.97 L327.90 673.31 L328.20 674.65 L328.30 676.00 L328.20 677.34 L327.89 678.68 L327.41 680.02 L326.77 681.37 L326.02 682.71 L325.20 684.05 L324.36 685.39 L323.55 686.74 L322.81 688.08 L322.20 689.42 L321.74 690.76 L321.47 692.11 L321.40 693.45 L321.54 694.79 L321.87 696.13 L322.38 697.48 L323.04 698.82 L323.80 700.16 L324.63 701.50 L325.47 702.85 L326.27 704.19 L326.99 705.53 L327.58 706.88 L328.01 708.22 L328.25 709.56 L328.29 710.90 L328.12 712.24 L327.76 713.59 L327.23 714.93 L326.55 716.27 L325.78 717.62 L324.95 718.96 L324.11 720.30 L323.32 721.64 L322.61 722.98 L322.04 724.33 L321.64 725.67 L321.43 727.01 L321.42 728.36 L321.62 729.70 L322.01 731.04 L322.56 732.38 L323.26 733.72 L324.04 735.07 L324.88 736.41 L325.72 737.75 L326.50 739.10 L327.18 740.44 L327.73 741.78 L328.10 743.12 L328.28 744.46 L328.26 745.81 L328.04 747.15 L327.62 748.49 L327.04 749.84 L326.33 751.18 L325.53 752.52 L324.69 753.86 L323.86 755.20 L323.09 756.55 L322.43 757.89 L321.90 759.23 L321.56 760.58 L321.41 761.92 L321.46 763.26 L321.72 764.60 L322.16 765.94 L322.76 767.29 L323.49 768.63 L324.29 769.97 L325.14 771.32 L325.96 772.66 L326.72 774.00" fill="none" stroke="#fff" stroke-width="1.1"/>
<rect x="141.90" y="696.50" width="38.40" height="47.10" fill="#fff" stroke="#000" stroke-width="1.7" />
<line x1="143.80" y1="696.50" x2="143.80" y2="743.60" stroke="#000" stroke-width="1.2" />
<line x1="141.90" y1="720.20" x2="186.00" y2="720.20" stroke="#000" stroke-width="1.0" />
<clipPath id="cfl"><rect x="141.9" y="695.2" width="38.4" height="49"/></clipPath>
<g clip-path="url(#cfl)">
<path d="M152.50 710.40 L145.40 706.30 L145.40 698.10 L152.50 694.00 L159.60 698.10 L159.60 706.30 Z" fill="#000" stroke="#000" stroke-width="0.6" stroke-linejoin="miter" />
<path d="M158.04 705.80 L152.50 709.00 L146.96 705.80" fill="none" stroke="#fff" stroke-width="0.9" stroke-linejoin="miter" />
<circle cx="152.50" cy="702.20" r="4.30" fill="#fff" stroke="#000" stroke-width="0" />
<line x1="148.20" y1="702.20" x2="151.30" y2="702.20" stroke="#000" stroke-width="0.7" />
<line x1="153.70" y1="702.20" x2="156.80" y2="702.20" stroke="#000" stroke-width="0.7" />
<line x1="152.50" y1="697.90" x2="152.50" y2="701.00" stroke="#000" stroke-width="0.7" />
<line x1="152.50" y1="703.40" x2="152.50" y2="706.50" stroke="#000" stroke-width="0.7" />
<line x1="151.60" y1="702.20" x2="153.40" y2="702.20" stroke="#000" stroke-width="0.7" />
<line x1="152.50" y1="701.30" x2="152.50" y2="703.10" stroke="#000" stroke-width="0.7" />
<path d="M169.70 710.40 L162.60 706.30 L162.60 698.10 L169.70 694.00 L176.80 698.10 L176.80 706.30 Z" fill="#000" stroke="#000" stroke-width="0.6" stroke-linejoin="miter" />
<path d="M175.24 705.80 L169.70 709.00 L164.16 705.80" fill="none" stroke="#fff" stroke-width="0.9" stroke-linejoin="miter" />
<circle cx="169.70" cy="702.20" r="4.30" fill="#fff" stroke="#000" stroke-width="0" />
<line x1="165.40" y1="702.20" x2="168.50" y2="702.20" stroke="#000" stroke-width="0.7" />
<line x1="170.90" y1="702.20" x2="174.00" y2="702.20" stroke="#000" stroke-width="0.7" />
<line x1="169.70" y1="697.90" x2="169.70" y2="701.00" stroke="#000" stroke-width="0.7" />
<line x1="169.70" y1="703.40" x2="169.70" y2="706.50" stroke="#000" stroke-width="0.7" />
<line x1="168.80" y1="702.20" x2="170.60" y2="702.20" stroke="#000" stroke-width="0.7" />
<line x1="169.70" y1="701.30" x2="169.70" y2="703.10" stroke="#000" stroke-width="0.7" />
</g>
<rect x="145.60" y="694.40" width="31.20" height="1.80" fill="#000" stroke="none" stroke-width="0" />
<path d="M145.6 704.5 Q161 722 176.8 704.5" fill="none" stroke="#999" stroke-width="0.6" />
<circle cx="161.30" cy="720.20" r="6.90" fill="#fff" stroke="#000" stroke-width="1.7" />
<line x1="146.00" y1="720.20" x2="159.00" y2="720.20" stroke="#000" stroke-width="1.0" />
<line x1="163.50" y1="720.20" x2="182.00" y2="720.20" stroke="#000" stroke-width="1.0" />
<line x1="161.30" y1="712.00" x2="161.30" y2="720.20" stroke="#000" stroke-width="1.0" />
<circle cx="152.50" cy="738.00" r="3.80" fill="#fff" stroke="#000" stroke-width="2.2" />
<circle cx="152.50" cy="738.00" r="1.20" fill="none" stroke="#000" stroke-width="0.8" />
<line x1="146.30" y1="738.00" x2="147.90" y2="738.00" stroke="#000" stroke-width="0.8" />
<line x1="157.10" y1="738.00" x2="158.70" y2="738.00" stroke="#000" stroke-width="0.8" />
<line x1="152.50" y1="731.80" x2="152.50" y2="733.40" stroke="#000" stroke-width="0.8" />
<circle cx="169.70" cy="738.00" r="3.80" fill="#fff" stroke="#000" stroke-width="2.2" />
<circle cx="169.70" cy="738.00" r="1.20" fill="none" stroke="#000" stroke-width="0.8" />
<line x1="163.50" y1="738.00" x2="165.10" y2="738.00" stroke="#000" stroke-width="0.8" />
<line x1="174.30" y1="738.00" x2="175.90" y2="738.00" stroke="#000" stroke-width="0.8" />
<line x1="169.70" y1="731.80" x2="169.70" y2="733.40" stroke="#000" stroke-width="0.8" />
<line x1="135.70" y1="711.09" x2="154.80" y2="717.89" stroke="#000" stroke-width="1.0" />
<line x1="167.80" y1="722.51" x2="235.10" y2="748.30" stroke="#000" stroke-width="1.0" />
<line x1="235.10" y1="748.30" x2="274.70" y2="748.30" stroke="#000" stroke-width="1.0" />
<path d="M154.80 717.89 L141.68 715.98 L143.42 711.08 Z" fill="#000" stroke="none"/>
<path d="M167.80 722.51 L180.92 724.42 L179.18 729.32 Z" fill="#000" stroke="none"/>
<g transform="translate(242.60,744.50)"><ellipse cx="3.38" cy="-6.12" rx="2.92" ry="4.62" fill="none" stroke="#000" stroke-width="1.0"/><line x1="1.50" y1="0.50" x2="5.25" y2="-13.00" stroke="#000" stroke-width="1.0"/></g>
<text x="250.40" y="744.50" font-size="18.2" font-family="Liberation Sans, sans-serif" text-anchor="start" fill="#000" textLength="15.70" lengthAdjust="spacingAndGlyphs" >22</text>
<text x="235.80" y="763.10" font-size="18.2" font-family="Liberation Sans, sans-serif" text-anchor="start" fill="#000" textLength="38.60" lengthAdjust="spacingAndGlyphs" >2 отв.</text>
<line x1="216.20" y1="795.20" x2="257.00" y2="795.20" stroke="#000" stroke-width="1.0" />
<line x1="216.20" y1="795.20" x2="169.70" y2="738.00" stroke="#000" stroke-width="1.0" />
<path d="M173.23 742.35 L183.45 750.79 L179.42 754.07 Z" fill="#000" stroke="none"/>
<line x1="158.60" y1="723.20" x2="168.40" y2="736.20" stroke="#000" stroke-width="2.6" />
<path d="M156.6 721.4 L161.8 722.2 L158.6 726.6 Z" fill="#000"/>
<text x="225.20" y="791.40" font-size="18.2" font-family="Liberation Sans, sans-serif" text-anchor="start" fill="#000" textLength="22.00" lengthAdjust="spacingAndGlyphs" >M12</text>
<text x="216.90" y="810.30" font-size="18.2" font-family="Liberation Sans, sans-serif" text-anchor="start" fill="#000" textLength="39.70" lengthAdjust="spacingAndGlyphs" >8 отв.</text>
<line x1="556.20" y1="670.40" x2="556.20" y2="770.10" stroke="#000" stroke-width="1.8" />
<line x1="552.30" y1="670.40" x2="560.00" y2="670.40" stroke="#000" stroke-width="1.0" />
<line x1="552.30" y1="770.10" x2="560.00" y2="770.10" stroke="#000" stroke-width="1.0" />
<path d="M561 663.6 H607.5 Q608.5 663.6 608.5 664.6 V775 Q608.5 776 607.5 776 H561 Q560 776 560 775 V664.6 Q560 663.6 561 663.6 Z" fill="#fff" stroke="#000" stroke-width="2.3"/>
<line x1="560.00" y1="720.20" x2="613.00" y2="720.20" stroke="#000" stroke-width="1.0" />
<circle cx="565.90" cy="720.20" r="3.00" fill="#fff" stroke="#000" stroke-width="2.2" />
<circle cx="565.90" cy="720.20" r="0.70" fill="none" stroke="#000" stroke-width="0.8" />
<rect x="516.90" y="694.90" width="32.50" height="49.90" fill="#fff" stroke="#000" stroke-width="2.2" />
<line x1="516.90" y1="693.80" x2="516.90" y2="745.90" stroke="#000" stroke-width="3.4" />
<line x1="549.20" y1="693.80" x2="549.20" y2="745.90" stroke="#000" stroke-width="4.2" />
<clipPath id="cpb"><rect x="516" y="694.4" width="34" height="51"/></clipPath><g clip-path="url(#cpb)">
<path d="M524.40 709.40 L518.16 705.80 L518.16 698.60 L524.40 695.00 L530.64 698.60 L530.64 705.80 Z" fill="#000" stroke="#000" stroke-width="0.6" stroke-linejoin="miter" />
<circle cx="524.40" cy="702.20" r="4.20" fill="#fff" stroke="#000" stroke-width="0" />
<line x1="520.20" y1="702.20" x2="523.20" y2="702.20" stroke="#000" stroke-width="0.7" />
<line x1="525.60" y1="702.20" x2="528.60" y2="702.20" stroke="#000" stroke-width="0.7" />
<line x1="524.40" y1="698.00" x2="524.40" y2="701.00" stroke="#000" stroke-width="0.7" />
<line x1="524.40" y1="703.40" x2="524.40" y2="706.40" stroke="#000" stroke-width="0.7" />
<line x1="523.50" y1="702.20" x2="525.30" y2="702.20" stroke="#000" stroke-width="0.7" />
<line x1="524.40" y1="701.30" x2="524.40" y2="703.10" stroke="#000" stroke-width="0.7" />
<path d="M524.40 745.20 L518.16 741.60 L518.16 734.40 L524.40 730.80 L530.64 734.40 L530.64 741.60 Z" fill="#000" stroke="#000" stroke-width="0.6" stroke-linejoin="miter" />
<circle cx="524.40" cy="738.00" r="4.20" fill="#fff" stroke="#000" stroke-width="0" />
<line x1="520.20" y1="738.00" x2="523.20" y2="738.00" stroke="#000" stroke-width="0.7" />
<line x1="525.60" y1="738.00" x2="528.60" y2="738.00" stroke="#000" stroke-width="0.7" />
<line x1="524.40" y1="733.80" x2="524.40" y2="736.80" stroke="#000" stroke-width="0.7" />
<line x1="524.40" y1="739.20" x2="524.40" y2="742.20" stroke="#000" stroke-width="0.7" />
<line x1="523.50" y1="738.00" x2="525.30" y2="738.00" stroke="#000" stroke-width="0.7" />
<line x1="524.40" y1="737.10" x2="524.40" y2="738.90" stroke="#000" stroke-width="0.7" />
<path d="M541.40 709.40 L535.16 705.80 L535.16 698.60 L541.40 695.00 L547.64 698.60 L547.64 705.80 Z" fill="#000" stroke="#000" stroke-width="0.6" stroke-linejoin="miter" />
<circle cx="541.40" cy="702.20" r="4.20" fill="#fff" stroke="#000" stroke-width="0" />
<line x1="537.20" y1="702.20" x2="540.20" y2="702.20" stroke="#000" stroke-width="0.7" />
<line x1="542.60" y1="702.20" x2="545.60" y2="702.20" stroke="#000" stroke-width="0.7" />
<line x1="541.40" y1="698.00" x2="541.40" y2="701.00" stroke="#000" stroke-width="0.7" />
<line x1="541.40" y1="703.40" x2="541.40" y2="706.40" stroke="#000" stroke-width="0.7" />
<line x1="540.50" y1="702.20" x2="542.30" y2="702.20" stroke="#000" stroke-width="0.7" />
<line x1="541.40" y1="701.30" x2="541.40" y2="703.10" stroke="#000" stroke-width="0.7" />
<path d="M541.40 745.20 L535.16 741.60 L535.16 734.40 L541.40 730.80 L547.64 734.40 L547.64 741.60 Z" fill="#000" stroke="#000" stroke-width="0.6" stroke-linejoin="miter" />
<circle cx="541.40" cy="738.00" r="4.20" fill="#fff" stroke="#000" stroke-width="0" />
<line x1="537.20" y1="738.00" x2="540.20" y2="738.00" stroke="#000" stroke-width="0.7" />
<line x1="542.60" y1="738.00" x2="545.60" y2="738.00" stroke="#000" stroke-width="0.7" />
<line x1="541.40" y1="733.80" x2="541.40" y2="736.80" stroke="#000" stroke-width="0.7" />
<line x1="541.40" y1="739.20" x2="541.40" y2="742.20" stroke="#000" stroke-width="0.7" />
<line x1="540.50" y1="738.00" x2="542.30" y2="738.00" stroke="#000" stroke-width="0.7" />
<line x1="541.40" y1="737.10" x2="541.40" y2="738.90" stroke="#000" stroke-width="0.7" />
</g>
<line x1="511.00" y1="720.20" x2="552.00" y2="720.20" stroke="#000" stroke-width="1.0" />
<line x1="532.50" y1="612.10" x2="532.50" y2="694.00" stroke="#000" stroke-width="1.0" />
<line x1="532.50" y1="694.00" x2="532.50" y2="748.00" stroke="#000" stroke-width="1.0" stroke-dasharray="13 2 3 2"/>
<line x1="608.50" y1="694.40" x2="613.50" y2="694.40" stroke="#000" stroke-width="2.3" />
<line x1="608.50" y1="746.00" x2="613.50" y2="746.00" stroke="#000" stroke-width="2.3" />
<line x1="613.50" y1="694.40" x2="613.50" y2="697.40" stroke="#000" stroke-width="2.3" />
<line x1="613.50" y1="746.00" x2="613.50" y2="743.00" stroke="#000" stroke-width="2.3" />
<path d="M613.5 697.4 H708 Q718.6 720.2 708 743.0 H613.5" fill="none" stroke="#000" stroke-width="2.3" />
<line x1="630.30" y1="697.40" x2="630.30" y2="743.00" stroke="#000" stroke-width="2.3" />
<line x1="696.60" y1="697.40" x2="696.60" y2="743.00" stroke="#000" stroke-width="2.3" />
<line x1="630.30" y1="699.10" x2="696.60" y2="699.10" stroke="#000" stroke-width="0.8" />
<line x1="630.30" y1="741.60" x2="696.60" y2="741.60" stroke="#000" stroke-width="0.8" />
<path d="M620 696.8 C618.6 706 621 714 620.2 720.2 C619.4 728 621 736 620 743.6" fill="none" stroke="#000" stroke-width="1.0" />
<rect x="628.40" y="704.40" width="68.20" height="2.20" fill="#000" stroke="none" stroke-width="0" />
<rect x="628.40" y="733.60" width="68.20" height="2.40" fill="#000" stroke="none" stroke-width="0" />
<rect x="630.30" y="706.40" width="11.10" height="27.40" fill="url(#hX)" stroke="#000" stroke-width="0.8" />
<rect x="684.80" y="706.40" width="11.80" height="27.40" fill="url(#hX)" stroke="#000" stroke-width="0.8" />
<path d="M640.6 707 Q634 720.2 640.6 733" fill="none" stroke="#000" stroke-width="1.0" />
<path d="M685.6 707 Q692.2 720.2 685.6 733" fill="none" stroke="#000" stroke-width="1.0" />
<path d="M636 707 Q631.6 720.2 636 733" fill="none" stroke="#000" stroke-width="0.7" />
<path d="M690.4 707 Q694.8 720.2 690.4 733" fill="none" stroke="#000" stroke-width="0.7" />
<rect x="641.40" y="706.40" width="43.40" height="27.40" fill="#fff" stroke="#000" stroke-width="1.6" />
<rect x="641.40" y="718.60" width="43.40" height="2.80" fill="#000" stroke="none" stroke-width="0" />
<line x1="676.00" y1="720.00" x2="680.00" y2="720.00" stroke="#000" stroke-width="0.8" stroke="#fff"/>
<line x1="663.60" y1="640.20" x2="663.60" y2="745.00" stroke="#000" stroke-width="1.0" />
<line x1="161.40" y1="612.40" x2="161.40" y2="713.00" stroke="#000" stroke-width="1.0" />
<line x1="94.50" y1="618.50" x2="161.40" y2="618.50" stroke="#000" stroke-width="1.0" />
<path d="M94.50 618.50 L108.50 615.70 L108.50 621.30 Z" fill="#000" stroke="none"/>
<path d="M161.40 618.50 L147.40 621.30 L147.40 615.70 Z" fill="#000" stroke="none"/>
<text x="115.10" y="615.00" font-size="18.2" font-family="Liberation Sans, sans-serif" text-anchor="start" fill="#000" textLength="19.10" lengthAdjust="spacingAndGlyphs" >107</text>
<line x1="161.40" y1="618.30" x2="532.40" y2="618.30" stroke="#000" stroke-width="1.0" />
<path d="M161.40 618.30 L175.40 615.50 L175.40 621.10 Z" fill="#000" stroke="none"/>
<path d="M532.40 618.30 L518.40 621.10 L518.40 615.50 Z" fill="#000" stroke="none"/>
<text x="341.90" y="615.40" font-size="18.2" font-family="Liberation Sans, sans-serif" text-anchor="start" fill="#000" textLength="10.70" lengthAdjust="spacingAndGlyphs" >L1</text>
<line x1="144.40" y1="636.70" x2="144.40" y2="667.80" stroke="#000" stroke-width="1.0" />
<line x1="94.50" y1="642.40" x2="144.40" y2="642.40" stroke="#000" stroke-width="1.0" />
<path d="M94.50 642.40 L108.50 639.60 L108.50 645.20 Z" fill="#000" stroke="none"/>
<path d="M144.40 642.40 L130.40 645.20 L130.40 639.60 Z" fill="#000" stroke="none"/>
<text x="114.20" y="639.20" font-size="18.2" font-family="Liberation Sans, sans-serif" text-anchor="start" fill="#000" textLength="14.30" lengthAdjust="spacingAndGlyphs" >80</text>
<line x1="152.50" y1="647.00" x2="152.50" y2="698.00" stroke="#000" stroke-width="1.0" />
<line x1="169.70" y1="647.00" x2="169.70" y2="698.00" stroke="#000" stroke-width="1.0" />
<line x1="132.00" y1="653.00" x2="152.50" y2="653.00" stroke="#000" stroke-width="1.0" />
<path d="M152.50 653.00 L138.50 655.80 L138.50 650.20 Z" fill="#000" stroke="none"/>
<line x1="152.50" y1="653.00" x2="169.70" y2="653.00" stroke="#000" stroke-width="1.0" />
<line x1="169.70" y1="653.00" x2="213.90" y2="653.00" stroke="#000" stroke-width="1.0" />
<path d="M169.70 653.00 L183.70 650.20 L183.70 655.80 Z" fill="#000" stroke="none"/>
<text x="188.00" y="650.70" font-size="18.2" font-family="Liberation Sans, sans-serif" text-anchor="start" fill="#000" textLength="25.20" lengthAdjust="spacingAndGlyphs" >27.8</text>
<line x1="94.50" y1="679.40" x2="143.80" y2="679.40" stroke="#000" stroke-width="1.0" />
<path d="M94.50 679.40 L108.50 676.60 L108.50 682.20 Z" fill="#000" stroke="none"/>
<path d="M143.80 679.40 L129.80 682.20 L129.80 676.60 Z" fill="#000" stroke="none"/>
<text x="114.20" y="675.90" font-size="18.2" font-family="Liberation Sans, sans-serif" text-anchor="start" fill="#000" textLength="14.30" lengthAdjust="spacingAndGlyphs" >80</text>
<line x1="53.30" y1="657.40" x2="53.30" y2="743.00" stroke="#000" stroke-width="1.0" />
<path d="M53.30 697.40 L56.10 711.40 L50.50 711.40 Z" fill="#000" stroke="none"/>
<path d="M53.30 743.00 L50.50 729.00 L56.10 729.00 Z" fill="#000" stroke="none"/>
<text transform="translate(49.80,672.40) rotate(-90)" x="0" y="0" font-size="18.2" font-family="Liberation Sans, sans-serif" text-anchor="start" fill="#000" textLength="14.10" lengthAdjust="spacingAndGlyphs" >75</text>
<line x1="72.40" y1="734.70" x2="72.40" y2="786.80" stroke="#000" stroke-width="1.0" />
<line x1="116.50" y1="734.70" x2="116.50" y2="786.80" stroke="#000" stroke-width="1.0" />
<line x1="45.00" y1="781.50" x2="116.50" y2="781.50" stroke="#000" stroke-width="1.0" />
<path d="M72.40 781.50 L86.40 778.70 L86.40 784.30 Z" fill="#000" stroke="none"/>
<path d="M116.50 781.50 L102.50 784.30 L102.50 778.70 Z" fill="#000" stroke="none"/>
<g transform="translate(45.50,777.60)"><ellipse cx="3.38" cy="-6.12" rx="2.92" ry="4.62" fill="none" stroke="#000" stroke-width="1.0"/><line x1="1.50" y1="0.50" x2="5.25" y2="-13.00" stroke="#000" stroke-width="1.0"/></g>
<text x="53.60" y="777.60" font-size="18.2" font-family="Liberation Sans, sans-serif" text-anchor="start" fill="#000" textLength="15.20" lengthAdjust="spacingAndGlyphs" >70</text>
<text x="270.10" y="640.20" font-size="15" font-family="Liberation Sans, sans-serif" text-anchor="start" fill="#000" textLength="100.30" lengthAdjust="spacingAndGlyphs" >Место маркировки</text>
<line x1="264.30" y1="642.50" x2="376.80" y2="642.50" stroke="#000" stroke-width="1.0" />
<line x1="264.30" y1="642.50" x2="264.30" y2="667.80" stroke="#000" stroke-width="1.0" />
<path d="M264.30 667.00 L261.50 652.80 L267.10 652.80 Z" fill="#000" stroke="none"/>
<line x1="169.70" y1="702.20" x2="225.80" y2="702.20" stroke="#000" stroke-width="1.0" />
<line x1="169.70" y1="738.00" x2="226.00" y2="738.00" stroke="#000" stroke-width="1.0" />
<line x1="219.30" y1="673.40" x2="219.30" y2="738.00" stroke="#000" stroke-width="1.0" />
<path d="M219.30 702.20 L222.10 716.20 L216.50 716.20 Z" fill="#000" stroke="none"/>
<path d="M219.30 738.00 L216.50 724.00 L222.10 724.00 Z" fill="#000" stroke="none"/>
<text transform="translate(217.00,699.30) rotate(-90)" x="0" y="0" font-size="18.2" font-family="Liberation Sans, sans-serif" text-anchor="start" fill="#000" textLength="24.60" lengthAdjust="spacingAndGlyphs" >57.2</text>
<line x1="419.60" y1="667.80" x2="419.60" y2="772.80" stroke="#000" stroke-width="1.0" />
<path d="M419.60 668.60 L422.40 681.60 L416.80 681.60 Z" fill="#000" stroke="none"/>
<path d="M419.60 772.00 L416.80 759.00 L422.40 759.00 Z" fill="#000" stroke="none"/>
<g transform="translate(416.30,754.50) rotate(-90)"><ellipse cx="3.24" cy="-5.88" rx="2.79" ry="4.44" fill="none" stroke="#000" stroke-width="1.0"/><line x1="1.44" y1="0.50" x2="5.04" y2="-12.50" stroke="#000" stroke-width="1.0"/></g>
<text transform="translate(416.30,746.40) rotate(-90)" x="0" y="0" font-size="18.2" font-family="Liberation Sans, sans-serif" text-anchor="start" fill="#000" textLength="21.00" lengthAdjust="spacingAndGlyphs" >168</text>
<line x1="613.50" y1="640.20" x2="613.50" y2="694.40" stroke="#000" stroke-width="1.0" />
<line x1="613.50" y1="646.30" x2="663.60" y2="646.30" stroke="#000" stroke-width="1.0" />
<path d="M613.50 646.30 L627.50 643.50 L627.50 649.10 Z" fill="#000" stroke="none"/>
<path d="M663.60 646.30 L649.60 649.10 L649.60 643.50 Z" fill="#000" stroke="none"/>
<text x="632.30" y="642.20" font-size="18.2" font-family="Liberation Sans, sans-serif" text-anchor="start" fill="#000" textLength="15.10" lengthAdjust="spacingAndGlyphs" >80</text>
<line x1="641.40" y1="736.00" x2="641.40" y2="789.50" stroke="#000" stroke-width="1.0" />
<line x1="685.10" y1="736.00" x2="685.10" y2="789.50" stroke="#000" stroke-width="1.0" />
<line x1="641.40" y1="783.40" x2="712.40" y2="783.40" stroke="#000" stroke-width="1.0" />
<path d="M641.40 783.40 L655.40 780.60 L655.40 786.20 Z" fill="#000" stroke="none"/>
<path d="M685.10 783.40 L671.10 786.20 L671.10 780.60 Z" fill="#000" stroke="none"/>
<g transform="translate(688.20,780.40)"><ellipse cx="3.38" cy="-6.12" rx="2.92" ry="4.62" fill="none" stroke="#000" stroke-width="1.0"/><line x1="1.50" y1="0.50" x2="5.25" y2="-13.00" stroke="#000" stroke-width="1.0"/></g>
<text x="696.40" y="780.40" font-size="18.2" font-family="Liberation Sans, sans-serif" text-anchor="start" fill="#000" textLength="15.60" lengthAdjust="spacingAndGlyphs" >70</text>
<line x1="708.00" y1="697.40" x2="740.20" y2="697.40" stroke="#000" stroke-width="1.0" />
<line x1="708.00" y1="743.00" x2="740.20" y2="743.00" stroke="#000" stroke-width="1.0" />
<line x1="734.80" y1="697.40" x2="734.80" y2="743.00" stroke="#000" stroke-width="1.0" />
<path d="M734.80 697.40 L737.60 711.40 L732.00 711.40 Z" fill="#000" stroke="none"/>
<path d="M734.80 743.00 L732.00 729.00 L737.60 729.00 Z" fill="#000" stroke="none"/>
<text transform="translate(732.40,726.00) rotate(-90)" x="0" y="0" font-size="18.2" font-family="Liberation Sans, sans-serif" text-anchor="start" fill="#000" textLength="14.20" lengthAdjust="spacingAndGlyphs" >75</text>
<text y="542.4" x="198.8 225.2 253.5 277.5 301.0 329.1 350.7 373.3 399.9 421.6 452.5 476.1 501.7 524.5 537.9 561.5" font-size="45.5" font-family="Liberation Sans, sans-serif" fill="#e4e4fa" stroke="#e4e4fa" stroke-width="0.6">оптинструмент.рф</text>
</svg></body></html>
